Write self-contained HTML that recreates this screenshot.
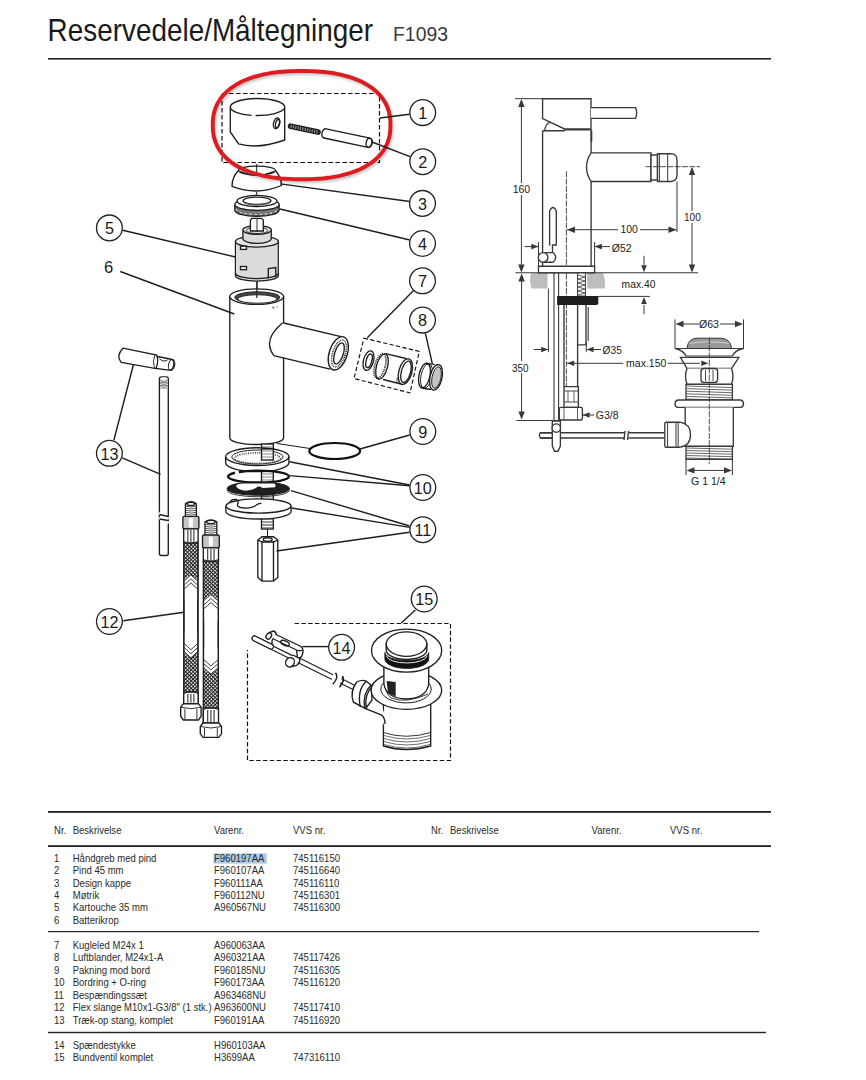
<!DOCTYPE html>
<html><head><meta charset="utf-8"><style>
html,body{margin:0;padding:0;background:#fff;width:866px;height:1080px;overflow:hidden}
svg{position:absolute;left:0;top:0;font-family:"Liberation Sans", sans-serif}
</style></head><body>
<svg width="866" height="1080" viewBox="0 0 866 1080">
<text x="47.6" y="41.2" font-size="30.5" fill="#1a1a1a" textLength="325.5" lengthAdjust="spacingAndGlyphs">Reservedele/Måltegninger</text>
<text x="393" y="41" font-size="20.5" fill="#3a3a3a" textLength="55" lengthAdjust="spacingAndGlyphs">F1093</text>
<rect x="48" y="58" width="723" height="1.6" fill="#222"/>
<rect x="48" y="811" width="723" height="1.8" fill="#222"/>
<rect x="48" y="845.2" width="723" height="1.8" fill="#222"/>
<rect x="48" y="931" width="711" height="1.2" fill="#222"/>
<rect x="48" y="1031.8" width="718" height="1.4" fill="#222"/>
<rect x="213.5" y="853.4" width="53.2" height="10.2" fill="#a9c9e6"/>
<text transform="translate(54,834) scale(0.875,1)" font-size="10.9" fill="#2a2a2a">Nr.</text>
<text transform="translate(72.7,834) scale(0.875,1)" font-size="10.9" fill="#2a2a2a">Beskrivelse</text>
<text transform="translate(214,834) scale(0.875,1)" font-size="10.9" fill="#2a2a2a">Varenr.</text>
<text transform="translate(293,834) scale(0.875,1)" font-size="10.9" fill="#2a2a2a">VVS nr.</text>
<text transform="translate(431,834) scale(0.875,1)" font-size="10.9" fill="#2a2a2a">Nr.</text>
<text transform="translate(450,834) scale(0.875,1)" font-size="10.9" fill="#2a2a2a">Beskrivelse</text>
<text transform="translate(591.5,834) scale(0.875,1)" font-size="10.9" fill="#2a2a2a">Varenr.</text>
<text transform="translate(670,834) scale(0.875,1)" font-size="10.9" fill="#2a2a2a">VVS nr.</text>
<text transform="translate(54,861.6) scale(0.875,1)" font-size="10.9" fill="#2a2a2a">1</text>
<text transform="translate(72.7,861.6) scale(0.875,1)" font-size="10.9" fill="#2a2a2a">Håndgreb med pind</text>
<text transform="translate(214,861.6) scale(0.875,1)" font-size="10.9" fill="#2a2a2a">F960197AA</text>
<text transform="translate(293,861.6) scale(0.875,1)" font-size="10.9" fill="#2a2a2a">745116150</text>
<text transform="translate(54,874.0500000000001) scale(0.875,1)" font-size="10.9" fill="#2a2a2a">2</text>
<text transform="translate(72.7,874.0500000000001) scale(0.875,1)" font-size="10.9" fill="#2a2a2a">Pind 45 mm</text>
<text transform="translate(214,874.0500000000001) scale(0.875,1)" font-size="10.9" fill="#2a2a2a">F960107AA</text>
<text transform="translate(293,874.0500000000001) scale(0.875,1)" font-size="10.9" fill="#2a2a2a">745116640</text>
<text transform="translate(54,886.5) scale(0.875,1)" font-size="10.9" fill="#2a2a2a">3</text>
<text transform="translate(72.7,886.5) scale(0.875,1)" font-size="10.9" fill="#2a2a2a">Design kappe</text>
<text transform="translate(214,886.5) scale(0.875,1)" font-size="10.9" fill="#2a2a2a">F960111AA</text>
<text transform="translate(293,886.5) scale(0.875,1)" font-size="10.9" fill="#2a2a2a">745116110</text>
<text transform="translate(54,898.95) scale(0.875,1)" font-size="10.9" fill="#2a2a2a">4</text>
<text transform="translate(72.7,898.95) scale(0.875,1)" font-size="10.9" fill="#2a2a2a">Møtrik</text>
<text transform="translate(214,898.95) scale(0.875,1)" font-size="10.9" fill="#2a2a2a">F960112NU</text>
<text transform="translate(293,898.95) scale(0.875,1)" font-size="10.9" fill="#2a2a2a">745116301</text>
<text transform="translate(54,911.4) scale(0.875,1)" font-size="10.9" fill="#2a2a2a">5</text>
<text transform="translate(72.7,911.4) scale(0.875,1)" font-size="10.9" fill="#2a2a2a">Kartouche 35 mm</text>
<text transform="translate(214,911.4) scale(0.875,1)" font-size="10.9" fill="#2a2a2a">A960567NU</text>
<text transform="translate(293,911.4) scale(0.875,1)" font-size="10.9" fill="#2a2a2a">745116300</text>
<text transform="translate(54,923.85) scale(0.875,1)" font-size="10.9" fill="#2a2a2a">6</text>
<text transform="translate(72.7,923.85) scale(0.875,1)" font-size="10.9" fill="#2a2a2a">Batterikrop</text>
<text transform="translate(214,923.85) scale(0.875,1)" font-size="10.9" fill="#2a2a2a"></text>
<text transform="translate(293,923.85) scale(0.875,1)" font-size="10.9" fill="#2a2a2a"></text>
<text transform="translate(54,949.0) scale(0.875,1)" font-size="10.9" fill="#2a2a2a">7</text>
<text transform="translate(72.7,949.0) scale(0.875,1)" font-size="10.9" fill="#2a2a2a">Kugleled M24x 1</text>
<text transform="translate(214,949.0) scale(0.875,1)" font-size="10.9" fill="#2a2a2a">A960063AA</text>
<text transform="translate(293,949.0) scale(0.875,1)" font-size="10.9" fill="#2a2a2a"></text>
<text transform="translate(54,961.45) scale(0.875,1)" font-size="10.9" fill="#2a2a2a">8</text>
<text transform="translate(72.7,961.45) scale(0.875,1)" font-size="10.9" fill="#2a2a2a">Luftblander, M24x1-A</text>
<text transform="translate(214,961.45) scale(0.875,1)" font-size="10.9" fill="#2a2a2a">A960321AA</text>
<text transform="translate(293,961.45) scale(0.875,1)" font-size="10.9" fill="#2a2a2a">745117426</text>
<text transform="translate(54,973.9) scale(0.875,1)" font-size="10.9" fill="#2a2a2a">9</text>
<text transform="translate(72.7,973.9) scale(0.875,1)" font-size="10.9" fill="#2a2a2a">Pakning mod bord</text>
<text transform="translate(214,973.9) scale(0.875,1)" font-size="10.9" fill="#2a2a2a">F960185NU</text>
<text transform="translate(293,973.9) scale(0.875,1)" font-size="10.9" fill="#2a2a2a">745116305</text>
<text transform="translate(54,986.35) scale(0.875,1)" font-size="10.9" fill="#2a2a2a">10</text>
<text transform="translate(72.7,986.35) scale(0.875,1)" font-size="10.9" fill="#2a2a2a">Bordring + O-ring</text>
<text transform="translate(214,986.35) scale(0.875,1)" font-size="10.9" fill="#2a2a2a">F960173AA</text>
<text transform="translate(293,986.35) scale(0.875,1)" font-size="10.9" fill="#2a2a2a">745116120</text>
<text transform="translate(54,998.8) scale(0.875,1)" font-size="10.9" fill="#2a2a2a">11</text>
<text transform="translate(72.7,998.8) scale(0.875,1)" font-size="10.9" fill="#2a2a2a">Bespændingssæt</text>
<text transform="translate(214,998.8) scale(0.875,1)" font-size="10.9" fill="#2a2a2a">A963468NU</text>
<text transform="translate(293,998.8) scale(0.875,1)" font-size="10.9" fill="#2a2a2a"></text>
<text transform="translate(54,1011.25) scale(0.875,1)" font-size="10.9" fill="#2a2a2a">12</text>
<text transform="translate(72.7,1011.25) scale(0.875,1)" font-size="10.9" fill="#2a2a2a">Flex slange M10x1-G3/8&quot; (1 stk.)</text>
<text transform="translate(214,1011.25) scale(0.875,1)" font-size="10.9" fill="#2a2a2a">A963600NU</text>
<text transform="translate(293,1011.25) scale(0.875,1)" font-size="10.9" fill="#2a2a2a">745117410</text>
<text transform="translate(54,1023.7) scale(0.875,1)" font-size="10.9" fill="#2a2a2a">13</text>
<text transform="translate(72.7,1023.7) scale(0.875,1)" font-size="10.9" fill="#2a2a2a">Træk-op stang, komplet</text>
<text transform="translate(214,1023.7) scale(0.875,1)" font-size="10.9" fill="#2a2a2a">F960191AA</text>
<text transform="translate(293,1023.7) scale(0.875,1)" font-size="10.9" fill="#2a2a2a">745116920</text>
<text transform="translate(54,1048.8) scale(0.875,1)" font-size="10.9" fill="#2a2a2a">14</text>
<text transform="translate(72.7,1048.8) scale(0.875,1)" font-size="10.9" fill="#2a2a2a">Spændestykke</text>
<text transform="translate(214,1048.8) scale(0.875,1)" font-size="10.9" fill="#2a2a2a">H960103AA</text>
<text transform="translate(293,1048.8) scale(0.875,1)" font-size="10.9" fill="#2a2a2a"></text>
<text transform="translate(54,1061.25) scale(0.875,1)" font-size="10.9" fill="#2a2a2a">15</text>
<text transform="translate(72.7,1061.25) scale(0.875,1)" font-size="10.9" fill="#2a2a2a">Bundventil komplet</text>
<text transform="translate(214,1061.25) scale(0.875,1)" font-size="10.9" fill="#2a2a2a">H3699AA</text>
<text transform="translate(293,1061.25) scale(0.875,1)" font-size="10.9" fill="#2a2a2a">747316110</text>
<path d="M222,93.5 H379.5 V162.5 H222 Z" fill="none" stroke="#111" stroke-width="1.2" stroke-dasharray="4.6,2.4"/>
<path d="M230.3,107 V132 L238.6,143.9 Q258,149.5 284.7,140 V107" fill="#fff" stroke="#1e1e1e" stroke-width="1.35"/>
<path d="M230.3,107 A27.2,8.5 0 0 1 284.7,107" fill="none" stroke="#1e1e1e" stroke-width="1.35"/>
<path d="M230.3,107 A27.2,8.5 0 0 0 284.7,107" fill="none" stroke="#1e1e1e" stroke-width="1.35" stroke-dasharray="24,4,30,60"/>
<ellipse cx="276.6" cy="123.3" rx="3.1" ry="5.4" transform="rotate(15 276.6 123.3)" fill="none" stroke="#1e1e1e" stroke-width="1.35"/>
<ellipse cx="277.4" cy="123.6" rx="1.8" ry="4.2" transform="rotate(15 277.4 123.6)" fill="none" stroke="#1e1e1e" stroke-width="1.35"/>
<path d="M290.6,126.2 L318,132.1" stroke="#1e1e1e" stroke-width="5.6" stroke-linecap="round"/>
<path d="M290.6,126.2 L318,132.1" stroke="#9a9a9a" stroke-width="3" stroke-linecap="butt" stroke-dasharray="1.1,1.3"/>
<path d="M326,128.8 L370,138.2 A3,4.6 12 0 1 368,147.4 L324,138 A3,4.6 12 0 1 326,128.8 Z" fill="#fff" stroke="#1e1e1e" stroke-width="1.35"/>
<ellipse cx="369" cy="142.8" rx="2.8" ry="4.6" transform="rotate(12 369 142.8)" fill="none" stroke="#1e1e1e" stroke-width="1.35"/>
<path d="M238.5,170.5 C234,175 232,180 232,186.4 Q257,196 281.4,185.5 C281.5,180 279.5,175 275.4,170.5" fill="#fff" stroke="#1e1e1e" stroke-width="1.35"/>
<ellipse cx="257" cy="170.5" rx="18.5" ry="4.4" fill="#fff" stroke="#1e1e1e" stroke-width="1.35"/>
<path d="M240,171.5 Q257,179 274,171.5" fill="none" stroke="#1e1e1e" stroke-width="1.35"/>
<line x1="256.7" y1="164" x2="256.7" y2="175" stroke="#1e1e1e" stroke-width="1"/>
<line x1="256.7" y1="192" x2="256.7" y2="202" stroke="#1e1e1e" stroke-width="1"/>
<path d="M234.8,205 V210.5 A22.2,6.2 0 0 0 279.1,210.5 V205" fill="#777" stroke="#1e1e1e" stroke-width="1.35"/>
<path d="M236,209 A21,5.5 0 0 0 278,209" fill="none" stroke="#cfcfcf" stroke-width="1.2" stroke-dasharray="2.5,2.5"/>
<ellipse cx="257" cy="204.5" rx="22.2" ry="5.8" fill="#fff" stroke="#1e1e1e" stroke-width="1.35"/>
<ellipse cx="257" cy="201" rx="19.9" ry="5.6" fill="#fff" stroke="#1e1e1e" stroke-width="1.35"/>
<ellipse cx="257" cy="200.8" rx="13.9" ry="3.7" fill="#fff" stroke="#1e1e1e" stroke-width="1.35"/>
<path d="M245,203 Q257,207 269,203" stroke="#555" stroke-width="1.6" fill="none"/>
<path d="M235.4,241.5 V276 A21.5,5.5 0 0 0 278.3,276 V241.5" fill="#dcdcdc" stroke="#1e1e1e" stroke-width="1.2"/>
<path d="M235.4,273.5 A21.5,5.5 0 0 0 278.3,273.5" fill="none" stroke="#1e1e1e" stroke-width="1.35"/>
<ellipse cx="256.9" cy="241.5" rx="21.5" ry="5.6" fill="#e4e4e4" stroke="#1e1e1e" stroke-width="1.35"/>
<path d="M242.9,230 V239 A14.2,4.6 0 0 0 271.25,239 V230" fill="#dcdcdc" stroke="#1e1e1e" stroke-width="1.35"/>
<ellipse cx="257.1" cy="230" rx="14.2" ry="4.3" fill="#e8e8e8" stroke="#1e1e1e" stroke-width="1.35"/>
<ellipse cx="257.1" cy="230.5" rx="11" ry="3" fill="none" stroke="#1e1e1e" stroke-width="0.8"/>
<path d="M250.4,231 V220 L252,218.3 H261.5 L263.3,220 V231 Z" fill="#fff" stroke="#1e1e1e" stroke-width="1.35"/>
<line x1="257" y1="219" x2="257" y2="232" stroke="#1e1e1e" stroke-width="0.9"/>
<rect x="240.5" y="246.2" width="6" height="3.2" fill="#fff" stroke="#1e1e1e" stroke-width="1.35"/>
<rect x="240.5" y="266.5" width="6" height="3.2" fill="#fff" stroke="#1e1e1e" stroke-width="1.35"/>
<path d="M268.3,278.5 V268.5 L275.8,267.5 V277.5" fill="none" stroke="#1e1e1e" stroke-width="1.35"/>
<line x1="257.1" y1="281" x2="257.1" y2="296" stroke="#1e1e1e" stroke-width="1"/>
<path d="M229.8,296.6 V438 A26.9,6.5 0 0 0 283.6,438 V296.6 Z" fill="#fff" stroke="#1e1e1e" stroke-width="1.35"/>
<ellipse cx="256.7" cy="296.6" rx="26.9" ry="7.8" fill="#fff" stroke="#1e1e1e" stroke-width="1.35"/>
<ellipse cx="257.3" cy="297.4" rx="22.5" ry="5.6" fill="#444" stroke="#1e1e1e" stroke-width="1"/>
<ellipse cx="257.3" cy="299" rx="19.5" ry="4.2" fill="#fff" stroke="#1e1e1e" stroke-width="0.9"/>
<line x1="256.8" y1="282" x2="256.8" y2="298" stroke="#1e1e1e" stroke-width="1.2"/>
<circle cx="273.3" cy="307.5" r="0.9" fill="#555"/><circle cx="277" cy="306.8" r="0.9" fill="#aaa"/>
<path d="M282.8,322.8 L342.1,336.8 L330.1,369.1 L273.8,355.6 Q262,340 282.8,322.8 Z" fill="#fff" stroke="none"/>
<path d="M283.6,323 L342.1,336.8 M273.8,355.6 L330.1,369.1 M282.8,322.8 Q262,340 273.8,355.6" fill="none" stroke="#1e1e1e" stroke-width="1.35"/>
<ellipse cx="338.3" cy="353.3" rx="9" ry="17.3" transform="rotate(18 338.3 353.3)" fill="#fff" stroke="#1e1e1e" stroke-width="1.35"/>
<ellipse cx="339" cy="353.5" rx="6.3" ry="14" transform="rotate(18 339 353.5)" fill="#fff" stroke="#1e1e1e" stroke-width="1.6" stroke-dasharray="0.8,0.9"/>
<ellipse cx="339" cy="353.5" rx="4.3" ry="11" transform="rotate(18 339 353.5)" fill="none" stroke="#1e1e1e" stroke-width="1.35"/>
<path d="M363.9,338.1 L419.3,351.4 L410,392.9 L354,378.5 Z" fill="none" stroke="#111" stroke-width="1.15" stroke-dasharray="4.2,2.4"/>
<ellipse cx="368.5" cy="360.6" rx="5" ry="10" transform="rotate(15 368.5 360.6)" fill="#fff" stroke="#1e1e1e" stroke-width="1.35"/>
<ellipse cx="369" cy="360.8" rx="2.8" ry="7" transform="rotate(15 369 360.8)" fill="none" stroke="#1e1e1e" stroke-width="1.35"/>
<path d="M385,354 L405.4,358.6 L405.4,384.6 L383,379 Z" fill="#fff" stroke="none"/>
<path d="M385.5,353.6 L406,358.5 M383,379.5 L403,384.5" fill="none" stroke="#1e1e1e" stroke-width="1.35"/>
<ellipse cx="382" cy="366.5" rx="5.5" ry="13" transform="rotate(15 382 366.5)" fill="#fff" stroke="#1e1e1e" stroke-width="1.35"/>
<ellipse cx="380" cy="366" rx="5.2" ry="12.6" transform="rotate(15 380 366)" fill="none" stroke="#1e1e1e" stroke-width="1.8" stroke-dasharray="1,1"/>
<path d="M397,382.5 L397,378 L400.5,378.8 L400.5,383.5" fill="none" stroke="#1e1e1e" stroke-width="0.8"/>
<ellipse cx="405.4" cy="371.6" rx="6.5" ry="13.2" transform="rotate(15 405.4 371.6)" fill="#fff" stroke="#1e1e1e" stroke-width="1.35"/>
<ellipse cx="406" cy="371.8" rx="4.6" ry="11" transform="rotate(15 406 371.8)" fill="none" stroke="#1e1e1e" stroke-width="1.35"/>
<path d="M424,364 L436,364 L436,390 L422,389 Z" fill="#fff"/>
<ellipse cx="424.5" cy="375.5" rx="5.5" ry="12.5" transform="rotate(12 424.5 375.5)" fill="#fff" stroke="#1e1e1e" stroke-width="1.35"/>
<ellipse cx="426.5" cy="376" rx="5.5" ry="12.5" transform="rotate(12 426.5 376)" fill="none" stroke="#1e1e1e" stroke-width="0.9"/>
<path d="M425.7,363.3 L434.5,364.3 M421.5,388 L431,389.5" fill="none" stroke="#1e1e1e" stroke-width="1.35"/>
<ellipse cx="436" cy="377.3" rx="6" ry="13" transform="rotate(12 436 377.3)" fill="#fff" stroke="#1e1e1e" stroke-width="1.35"/>
<ellipse cx="436.5" cy="377.5" rx="4.4" ry="11" transform="rotate(12 436.5 377.5)" fill="#c4c4c4" stroke="#1e1e1e" stroke-width="0.9"/>
<ellipse cx="334.7" cy="451" rx="25.4" ry="8" fill="none" stroke="#111" stroke-width="2.2"/>
<line x1="277" y1="443.5" x2="310" y2="448.5" stroke="#1e1e1e" stroke-width="1.1"/>
<rect x="261.5" y="444" width="11.8" height="85" fill="#fff" stroke="#1e1e1e" stroke-width="1.35"/>
<line x1="262" y1="447" x2="273" y2="447" stroke="#555" stroke-width="0.7"/>
<line x1="262" y1="450" x2="273" y2="450" stroke="#555" stroke-width="0.7"/>
<line x1="262" y1="453" x2="273" y2="453" stroke="#555" stroke-width="0.7"/>
<line x1="262" y1="456" x2="273" y2="456" stroke="#555" stroke-width="0.7"/>
<line x1="262" y1="459" x2="273" y2="459" stroke="#555" stroke-width="0.7"/>
<line x1="262" y1="462" x2="273" y2="462" stroke="#555" stroke-width="0.7"/>
<line x1="262" y1="465" x2="273" y2="465" stroke="#555" stroke-width="0.7"/>
<line x1="262" y1="468" x2="273" y2="468" stroke="#555" stroke-width="0.7"/>
<line x1="262" y1="471" x2="273" y2="471" stroke="#555" stroke-width="0.7"/>
<line x1="262" y1="474" x2="273" y2="474" stroke="#555" stroke-width="0.7"/>
<line x1="262" y1="477" x2="273" y2="477" stroke="#555" stroke-width="0.7"/>
<line x1="262" y1="480" x2="273" y2="480" stroke="#555" stroke-width="0.7"/>
<line x1="262" y1="483" x2="273" y2="483" stroke="#555" stroke-width="0.7"/>
<line x1="262" y1="486" x2="273" y2="486" stroke="#555" stroke-width="0.7"/>
<line x1="262" y1="489" x2="273" y2="489" stroke="#555" stroke-width="0.7"/>
<line x1="262" y1="492" x2="273" y2="492" stroke="#555" stroke-width="0.7"/>
<line x1="262" y1="495" x2="273" y2="495" stroke="#555" stroke-width="0.7"/>
<line x1="262" y1="498" x2="273" y2="498" stroke="#555" stroke-width="0.7"/>
<line x1="262" y1="501" x2="273" y2="501" stroke="#555" stroke-width="0.7"/>
<line x1="262" y1="504" x2="273" y2="504" stroke="#555" stroke-width="0.7"/>
<line x1="262" y1="507" x2="273" y2="507" stroke="#555" stroke-width="0.7"/>
<line x1="262" y1="510" x2="273" y2="510" stroke="#555" stroke-width="0.7"/>
<line x1="262" y1="513" x2="273" y2="513" stroke="#555" stroke-width="0.7"/>
<line x1="262" y1="516" x2="273" y2="516" stroke="#555" stroke-width="0.7"/>
<line x1="262" y1="519" x2="273" y2="519" stroke="#555" stroke-width="0.7"/>
<line x1="262" y1="522" x2="273" y2="522" stroke="#555" stroke-width="0.7"/>
<line x1="262" y1="525" x2="273" y2="525" stroke="#555" stroke-width="0.7"/>
<line x1="262" y1="528" x2="273" y2="528" stroke="#555" stroke-width="0.7"/>
<path d="M225.7,456.6 V462.8 A31.6,8.9 0 0 0 288.9,462.8 V456.6" fill="#fff" stroke="#1e1e1e" stroke-width="1.35"/>
<ellipse cx="257.3" cy="456.6" rx="31.6" ry="8.9" fill="#fff" stroke="#1e1e1e" stroke-width="1.35"/>
<ellipse cx="257.4" cy="457" rx="25.6" ry="7" fill="#fff" stroke="#1e1e1e" stroke-width="1"/>
<ellipse cx="257.4" cy="458.2" rx="23" ry="5.3" fill="none" stroke="#555" stroke-width="1.8" stroke-dasharray="1,1.2"/>
<rect x="261.5" y="449" width="11.8" height="11" fill="#fff" stroke="#1e1e1e" stroke-width="1.35"/>
<line x1="262" y1="451" x2="273" y2="451" stroke="#555" stroke-width="0.7"/>
<line x1="262" y1="454" x2="273" y2="454" stroke="#555" stroke-width="0.7"/>
<line x1="262" y1="457" x2="273" y2="457" stroke="#555" stroke-width="0.7"/>
<ellipse cx="258.5" cy="476.6" rx="30.4" ry="6" fill="none" stroke="#111" stroke-width="2.4" stroke-dasharray="72,4,200"/>
<ellipse cx="258.3" cy="488.6" rx="31.2" ry="6.7" fill="#1e1e1e" stroke="#1e1e1e" stroke-width="1"/>
<path d="M236,485.8 Q237,483.6 243,483.4 L274,483.4 Q276.5,484.5 275,487.2 L262.5,488 Q259,485.3 256.5,487.5 Q252,491 244,490.6 Q237,489.5 236,485.8 Z" fill="#fff"/>
<path d="M227,490 A31.2,6.7 0 0 0 289.5,490" fill="none" stroke="#1e1e1e" stroke-width="0.9"/>
<path d="M225.9,506 V511.5 A32.6,7.5 0 0 0 291.1,511.5 V506" fill="#fff" stroke="#1e1e1e" stroke-width="1.35"/>
<ellipse cx="258.5" cy="506" rx="32.6" ry="7.1" fill="#fff" stroke="#1e1e1e" stroke-width="1.35"/>
<path d="M229.5,502.5 Q231.5,499 236,499.4 Q239.5,501 237.5,504 Q237,507.8 244,508 Q252,508.5 256,505.2 Q258.5,503 262,503.5" fill="none" stroke="#1e1e1e" stroke-width="1.35"/>
<rect x="261.5" y="502" width="11.8" height="6" fill="#fff"/>
<line x1="262" y1="519" x2="273" y2="519" stroke="#555" stroke-width="0.7"/>
<line x1="262" y1="522" x2="273" y2="522" stroke="#555" stroke-width="0.7"/>
<line x1="262" y1="525" x2="273" y2="525" stroke="#555" stroke-width="0.7"/>
<line x1="262" y1="528" x2="273" y2="528" stroke="#555" stroke-width="0.7"/>
<line x1="267.5" y1="529" x2="267.5" y2="536" stroke="#1e1e1e" stroke-width="1"/>
<path d="M257.8,540 L262,536.7 H273.5 L277.8,540 V577.5 L273.5,581.1 H262 L257.8,577.5 Z" fill="#fff" stroke="#1e1e1e" stroke-width="1.35"/>
<path d="M262,541 V581 M273.5,541 V581 M257.8,540 L262,542 H273.5 L277.8,540" fill="none" stroke="#1e1e1e" stroke-width="1.35"/>
<ellipse cx="267.7" cy="539.5" rx="4.5" ry="1.8" fill="none" stroke="#1e1e1e" stroke-width="1.35"/>
<path d="M157.6,356.5 L172.3,359.5 A3.4,5.8 12 0 1 170.6,370.3 L154.2,368.1 Z" fill="#fff" stroke="#1e1e1e" stroke-width="1.35"/>
<ellipse cx="171.6" cy="364.9" rx="3.1" ry="5.5" transform="rotate(12 171.6 364.9)" fill="none" stroke="#1e1e1e" stroke-width="1"/>
<path d="M159.5,358.8 Q163,362.5 167.5,360" fill="none" stroke="#1e1e1e" stroke-width="1"/>
<path d="M123,348.2 L156.8,355.2 Q159,361 156,368.6 L121.3,362.5 Q115.5,356 123,348.2 Z" fill="#fff" stroke="#1e1e1e" stroke-width="1.35"/>
<path d="M155,355 Q152,361 154.5,368.3" fill="none" stroke="#1e1e1e" stroke-width="0.9"/>
<rect x="159.4" y="377" width="8.9" height="178.5" rx="2" fill="#fff" stroke="#1e1e1e" stroke-width="1.35"/>
<rect x="160.1" y="379.5" width="7.5" height="9" fill="#8a8a8a"/>
<path d="M160,381.5 Q163.8,379.5 167.7,381.5" fill="none" stroke="#eee" stroke-width="0.9"/>
<path d="M160,384.5 Q163.8,382.5 167.7,384.5" fill="none" stroke="#eee" stroke-width="0.9"/>
<path d="M160,387.5 Q163.8,385.5 167.7,387.5" fill="none" stroke="#eee" stroke-width="0.9"/>
<ellipse cx="163.85" cy="378.6" rx="3.6" ry="1.4" fill="#fff" stroke="none"/>
<path d="M159,513 L168.7,519 M159,518 L168.7,523" stroke="#fff" stroke-width="3"/>
<path d="M159.4,514.5 L168.3,516.5 M159.4,519 L168.3,520.5" fill="none" stroke="#1e1e1e" stroke-width="1.35"/>
<defs><pattern id="braid" width="2.6" height="2.6" patternUnits="userSpaceOnUse" patternTransform="rotate(45)"><rect width="2.6" height="2.6" fill="#1e1e1e"/><rect x="1" y="1" width="1.6" height="1.6" fill="#f0f0f0"/></pattern></defs>
<rect x="183.9" y="543" width="14.0" height="160.70000000000005" fill="#fff" stroke="#1e1e1e" stroke-width="1.35"/>
<rect x="184.4" y="543" width="13.0" height="43.799999999999955" fill="url(#braid)"/>
<rect x="184.4" y="645.8" width="13.0" height="46.200000000000045" fill="url(#braid)"/>
<path d="M184.4,579.8 L190.9,574.8 L197.4,579.8 V600.8 H184.4 Z" fill="#fff"/>
<path d="M184.4,588.8 Q187.9,585.8 190.9,582.8 M197.4,588.8 Q193.9,585.8 190.9,582.8" fill="none" stroke="#222" stroke-width="0.9"/>
<path d="M184.4,584.8 Q187.9,581.8 190.9,578.8 M197.4,584.8 Q193.9,581.8 190.9,578.8" fill="none" stroke="#222" stroke-width="0.9"/>
<path d="M184.4,580.8 Q187.9,577.8 190.9,574.8 M197.4,580.8 Q193.9,577.8 190.9,574.8" fill="none" stroke="#222" stroke-width="0.9"/>
<path d="M184.4,652.8 L190.9,657.8 L197.4,652.8 V631.8 H184.4 Z" fill="#fff"/>
<path d="M184.4,643.8 Q187.9,646.8 190.9,649.8 M197.4,643.8 Q193.9,646.8 190.9,649.8" fill="none" stroke="#222" stroke-width="0.9"/>
<path d="M184.4,647.8 Q187.9,650.8 190.9,653.8 M197.4,647.8 Q193.9,650.8 190.9,653.8" fill="none" stroke="#222" stroke-width="0.9"/>
<path d="M184.4,651.8 Q187.9,654.8 190.9,657.8 M197.4,651.8 Q193.9,654.8 190.9,657.8" fill="none" stroke="#222" stroke-width="0.9"/>
<path d="M183.9,543 V703.7 M197.9,543 V703.7" fill="none" stroke="#1e1e1e" stroke-width="1.35"/>
<path d="M185.4,516.3 V503.8 Q190.9,499.8 196.4,503.8 V516.3" fill="#fff" stroke="#1e1e1e" stroke-width="1.35"/>
<ellipse cx="190.9" cy="503.90000000000003" rx="3.9" ry="1.6" fill="none" stroke="#1e1e1e" stroke-width="1.35"/>
<path d="M185.70000000000002,506.3 Q190.9,507.8 196.1,506.3" fill="none" stroke="#333" stroke-width="0.8"/>
<path d="M185.70000000000002,508.3 Q190.9,509.8 196.1,508.3" fill="none" stroke="#333" stroke-width="0.8"/>
<path d="M185.70000000000002,510.3 Q190.9,511.8 196.1,510.3" fill="none" stroke="#333" stroke-width="0.8"/>
<path d="M185.70000000000002,512.3 Q190.9,513.8 196.1,512.3" fill="none" stroke="#333" stroke-width="0.8"/>
<path d="M185.70000000000002,514.3 Q190.9,515.8 196.1,514.3" fill="none" stroke="#333" stroke-width="0.8"/>
<path d="M182.9,517.8 Q182.9,516.3 184.4,516.3 H197.4 Q198.9,516.3 198.9,517.8 V527.4 Q198.9,528.9 197.4,528.9 H184.4 Q182.9,528.9 182.9,527.4 Z" fill="#c4c4c4" stroke="#1e1e1e" stroke-width="1.35"/>
<rect x="188.9" y="517.8" width="4" height="9.600000000000023" fill="#fff"/>
<rect x="183.70000000000002" y="528.9" width="14.4" height="14.100000000000023" fill="#fff" stroke="#1e1e1e" stroke-width="1.35"/>
<line x1="187.9" y1="529.9" x2="187.9" y2="542" stroke="#1e1e1e" stroke-width="1.0"/>
<line x1="190.9" y1="529.9" x2="190.9" y2="542" stroke="#1e1e1e" stroke-width="1.0"/>
<line x1="193.9" y1="529.9" x2="193.9" y2="542" stroke="#1e1e1e" stroke-width="1.0"/>
<path d="M183.9,541.5 Q190.9,545 197.9,541.5" fill="none" stroke="#1e1e1e" stroke-width="1"/>
<rect x="183.70000000000002" y="692" width="14.4" height="11.700000000000045" fill="#fff" stroke="#1e1e1e" stroke-width="1.35"/>
<line x1="187.9" y1="694" x2="187.9" y2="702.7" stroke="#1e1e1e" stroke-width="1.0"/>
<line x1="190.9" y1="694" x2="190.9" y2="702.7" stroke="#1e1e1e" stroke-width="1.0"/>
<line x1="193.9" y1="694" x2="193.9" y2="702.7" stroke="#1e1e1e" stroke-width="1.0"/>
<path d="M183.9,693.5 Q190.9,690 197.9,693.5" fill="none" stroke="#1e1e1e" stroke-width="1"/>
<path d="M180.70000000000002,707.2 L183.4,703.7 H198.4 L201.1,707.2 V716.5 L198.4,720 H183.4 L180.70000000000002,716.5 Z" fill="#fff" stroke="#1e1e1e" stroke-width="1.35"/>
<path d="M184.9,708.7 V719.5 M196.9,708.7 V719.5 M180.70000000000002,707.2 Q190.9,710.2 201.1,707.2" fill="none" stroke="#1e1e1e" stroke-width="0.9"/>
<rect x="203.5" y="561.1" width="14.800000000000011" height="161.89999999999998" fill="#fff" stroke="#1e1e1e" stroke-width="1.35"/>
<rect x="204" y="561.1" width="13.800000000000011" height="45.39999999999998" fill="url(#braid)"/>
<rect x="204" y="662" width="13.800000000000011" height="46" fill="url(#braid)"/>
<path d="M204,599.5 L210.9,594.5 L217.8,599.5 V620.5 H204 Z" fill="#fff"/>
<path d="M204,608.5 Q207.74,605.5 210.9,602.5 M217.8,608.5 Q214.06,605.5 210.9,602.5" fill="none" stroke="#222" stroke-width="0.9"/>
<path d="M204,604.5 Q207.74,601.5 210.9,598.5 M217.8,604.5 Q214.06,601.5 210.9,598.5" fill="none" stroke="#222" stroke-width="0.9"/>
<path d="M204,600.5 Q207.74,597.5 210.9,594.5 M217.8,600.5 Q214.06,597.5 210.9,594.5" fill="none" stroke="#222" stroke-width="0.9"/>
<path d="M204,669 L210.9,674 L217.8,669 V648 H204 Z" fill="#fff"/>
<path d="M204,660 Q207.74,663 210.9,666 M217.8,660 Q214.06,663 210.9,666" fill="none" stroke="#222" stroke-width="0.9"/>
<path d="M204,664 Q207.74,667 210.9,670 M217.8,664 Q214.06,667 210.9,670" fill="none" stroke="#222" stroke-width="0.9"/>
<path d="M204,668 Q207.74,671 210.9,674 M217.8,668 Q214.06,671 210.9,674" fill="none" stroke="#222" stroke-width="0.9"/>
<path d="M203.5,561.1 V723 M218.3,561.1 V723" fill="none" stroke="#1e1e1e" stroke-width="1.35"/>
<path d="M205,535 V521.9 Q210.9,517.9 216.8,521.9 V535" fill="#fff" stroke="#1e1e1e" stroke-width="1.35"/>
<ellipse cx="210.9" cy="522.0" rx="4.300000000000006" ry="1.6" fill="none" stroke="#1e1e1e" stroke-width="1.35"/>
<path d="M205.3,524.4 Q210.9,525.9 216.5,524.4" fill="none" stroke="#333" stroke-width="0.8"/>
<path d="M205.3,526.4 Q210.9,527.9 216.5,526.4" fill="none" stroke="#333" stroke-width="0.8"/>
<path d="M205.3,528.4 Q210.9,529.9 216.5,528.4" fill="none" stroke="#333" stroke-width="0.8"/>
<path d="M205.3,530.4 Q210.9,531.9 216.5,530.4" fill="none" stroke="#333" stroke-width="0.8"/>
<path d="M205.3,532.4 Q210.9,533.9 216.5,532.4" fill="none" stroke="#333" stroke-width="0.8"/>
<path d="M202.5,536.5 Q202.5,535 204,535 H217.8 Q219.3,535 219.3,536.5 V546.3 Q219.3,547.8 217.8,547.8 H204 Q202.5,547.8 202.5,546.3 Z" fill="#c4c4c4" stroke="#1e1e1e" stroke-width="1.35"/>
<rect x="208.9" y="536.5" width="4" height="9.799999999999955" fill="#fff"/>
<rect x="203.3" y="547.8" width="15.200000000000012" height="13.300000000000068" fill="#fff" stroke="#1e1e1e" stroke-width="1.35"/>
<line x1="207.74" y1="548.8" x2="207.74" y2="560.1" stroke="#1e1e1e" stroke-width="1.0"/>
<line x1="210.9" y1="548.8" x2="210.9" y2="560.1" stroke="#1e1e1e" stroke-width="1.0"/>
<line x1="214.06" y1="548.8" x2="214.06" y2="560.1" stroke="#1e1e1e" stroke-width="1.0"/>
<path d="M203.5,559.6 Q210.9,563.1 218.3,559.6" fill="none" stroke="#1e1e1e" stroke-width="1"/>
<rect x="203.3" y="708" width="15.200000000000012" height="15" fill="#fff" stroke="#1e1e1e" stroke-width="1.35"/>
<line x1="207.74" y1="710" x2="207.74" y2="722" stroke="#1e1e1e" stroke-width="1.0"/>
<line x1="210.9" y1="710" x2="210.9" y2="722" stroke="#1e1e1e" stroke-width="1.0"/>
<line x1="214.06" y1="710" x2="214.06" y2="722" stroke="#1e1e1e" stroke-width="1.0"/>
<path d="M203.5,709.5 Q210.9,706 218.3,709.5" fill="none" stroke="#1e1e1e" stroke-width="1"/>
<path d="M200.3,726.5 L203,723 H218.8 L221.5,726.5 V733.8 L218.8,737.3 H203 L200.3,733.8 Z" fill="#fff" stroke="#1e1e1e" stroke-width="1.35"/>
<path d="M204.5,728 V736.8 M217.3,728 V736.8 M200.3,726.5 Q210.9,729.5 221.5,726.5" fill="none" stroke="#1e1e1e" stroke-width="0.9"/>
<path d="M294.6,623.5 H450.5 V760.5 H247.5 V649.9" fill="none" stroke="#111" stroke-width="1.2" stroke-dasharray="4.4,2.4"/>
<path d="M254.5,638.4 L333.6,677.6" stroke="#1e1e1e" stroke-width="5.8" stroke-linecap="round"/>
<path d="M254.5,638.4 L333.6,677.6" stroke="#fff" stroke-width="3.6" stroke-linecap="round"/>
<path d="M341.1,681 L358,689.5" stroke="#1e1e1e" stroke-width="5.8" stroke-linecap="round"/>
<path d="M341.1,681 L358,689.5" stroke="#fff" stroke-width="3.6" stroke-linecap="round"/>
<path d="M335.5,673 Q339,677 333,684 M342.5,676 Q345,681 339.5,687" fill="none" stroke="#1e1e1e" stroke-width="1.35"/>
<path d="M333.6,673 L342,677 L339,686 L331,682 Z" fill="#fff"/>
<path d="M335.5,673 Q339,677 333,684 M342.5,676 Q345,681 339.5,687" fill="none" stroke="#1e1e1e" stroke-width="1.35"/>
<path d="M276,634.5 L300,646 Q303.5,648 303,652 L302,655.5 Q301,658.5 297.5,658 L274,646.5 Q271.5,645 272,641.5 L272.5,638 Q273,634 276,634.5 Z" fill="#fff" stroke="#1e1e1e" stroke-width="1.35"/>
<path d="M272.5,638.5 L296.5,650 Q300,651.5 303,650 M296.5,650 L297.5,658" fill="none" stroke="#1e1e1e" stroke-width="1.35"/>
<ellipse cx="285" cy="643.2" rx="4.6" ry="2.2" transform="rotate(24 285 643.2)" fill="none" stroke="#1e1e1e" stroke-width="1.35"/>
<path d="M266,633 L272,630.8 L276,634.6 L271,640 Z" fill="#fff"/>
<ellipse cx="268.8" cy="636" rx="2.4" ry="3.4" transform="rotate(35 268.8 636)" fill="#fff" stroke="#1e1e1e" stroke-width="1.35"/>
<path d="M269.5,632.5 L273.5,631 Q276.5,632 276,635" fill="none" stroke="#1e1e1e" stroke-width="1.35"/>
<path d="M254.5,638.4 L271,646.6" stroke="#1e1e1e" stroke-width="5.8" stroke-linecap="round"/>
<path d="M254.5,638.4 L271,646.6" stroke="#fff" stroke-width="3.6" stroke-linecap="round"/>
<path d="M293,655 L299.5,658.8 L296,666.5 L289.5,667 Z" fill="#fff"/>
<path d="M293,655 L299.5,658.5 Q301,662 296.5,665.5 L290,667" fill="none" stroke="#1e1e1e" stroke-width="1.35"/>
<ellipse cx="290" cy="662.3" rx="4.2" ry="4.8" transform="rotate(30 290 662.3)" fill="#fff" stroke="#1e1e1e" stroke-width="1.35"/>
<path d="M383.4,700 V746 Q406,753 430.7,746 V700 Z" fill="#fff" stroke="#1e1e1e" stroke-width="1.35"/>
<path d="M383.4,732.5 Q406,740 430.7,732.5" fill="none" stroke="#1e1e1e" stroke-width="0.9"/>
<path d="M384,735.5 Q406,742.5 430.2,735.5" fill="none" stroke="#444" stroke-width="0.8"/>
<path d="M384,738.5 Q406,745.5 430.2,738.5" fill="none" stroke="#444" stroke-width="0.8"/>
<path d="M384,741.5 Q406,748.5 430.2,741.5" fill="none" stroke="#444" stroke-width="0.8"/>
<path d="M384,744.5 Q406,751.5 430.2,744.5" fill="none" stroke="#444" stroke-width="0.8"/>
<path d="M366,684 L372,686 L380,700 L385,716 L383.4,725 L365.6,708.7 Z" fill="#fff"/>
<path d="M365.6,708.7 L381.7,715.1 Q385,718 385,724" fill="none" stroke="#1e1e1e" stroke-width="1.35"/>
<path d="M356.7,682 Q362,679.5 366,681 L371.2,685.2 L372,700 L365.6,708.7 L353.4,702.2 Q349.5,692 356.7,682 Z" fill="#fff" stroke="#1e1e1e" stroke-width="1.35"/>
<path d="M366,681.5 Q357,690 360.3,707 M371,685 Q362,694 364.8,708.5 M372.5,686 Q363.5,695 366.5,709" fill="none" stroke="#1e1e1e" stroke-width="1.35"/>
<ellipse cx="406.4" cy="690.3" rx="35.3" ry="19" fill="#fff" stroke="#1e1e1e" stroke-width="1.35"/>
<ellipse cx="406" cy="689" rx="25.2" ry="13.9" fill="none" stroke="#1e1e1e" stroke-width="1"/>
<path d="M385.5,682 Q384,692 391,698 Q406,704 428,694" fill="none" stroke="#1e1e1e" stroke-width="0.9"/>
<path d="M386.6,680.9 L395.7,682 V695.1 L387.5,692 Z" fill="#222"/>
<path d="M383.9,662 V684 Q386,698 406,699 Q427,698 428.7,684 V662 Z" fill="#fff" stroke="#1e1e1e" stroke-width="1.35"/>
<path d="M386.6,680.9 L395.7,682 V696.5 L388,693 Z" fill="#222"/>
<ellipse cx="406.6" cy="650.6" rx="35.1" ry="21.5" fill="#fff" stroke="#1e1e1e" stroke-width="1.35"/>
<path d="M384.9,652.5 A21.9,8 0 0 0 428.7,652.5 V659 A21.9,9.4 0 0 1 384.9,659 Z" fill="#111" stroke="#1e1e1e" stroke-width="0.9"/>
<path d="M386.5,656 A20.3,7.5 0 0 0 427,656" fill="none" stroke="#fff" stroke-width="0.9"/>
<path d="M386.2,644.1 V650 A20.3,9.5 0 0 0 426.9,650 V644.1 Z" fill="#fff" stroke="#1e1e1e" stroke-width="1.35"/>
<ellipse cx="406.5" cy="644.1" rx="20.3" ry="12.2" fill="#fff" stroke="#1e1e1e" stroke-width="1.35"/>
<path d="M531,273 H547.5 V288.5 H531.5 Q529,281 531,273 Z" fill="#bdbdbd"/>
<path d="M587.2,273 H603 Q606,281 604.8,288.5 H587.2 Z" fill="#bdbdbd"/>
<path d="M542.6,98.7 H591 V129.2 H565.1 L542.6,118.6 Z" fill="#fff" stroke="#383838" stroke-width="1.35"/>
<line x1="565.1" y1="129.5" x2="591" y2="129.5" stroke="#383838" stroke-width="2"/>
<path d="M550.3,122 Q545.5,124 544.8,130" fill="none" stroke="#383838" stroke-width="1.35"/>
<path d="M591,107.6 H635.5 Q638,113 635.5,118.3 H591" fill="#fff" stroke="#383838" stroke-width="1.35"/>
<path d="M542.6,130.7 V266.2 M591.1,130.7 V152.8 M591.1,181.5 V266.2 M542.6,130.7 H565" fill="none" stroke="#383838" stroke-width="1.35"/>
<line x1="591.5" y1="130" x2="591.5" y2="142" stroke="#383838" stroke-width="1.6"/>
<path d="M591,152.8 H651 V181.5 H591 Q582,167 591,152.8 Z" fill="#fff" stroke="#383838" stroke-width="1.35"/>
<path d="M651,155 H657.5 V180 H651 Z" fill="#fff" stroke="#383838" stroke-width="1.35"/>
<path d="M657.5,153.7 H671 Q677,154 677,160 V175 Q677,181 671,181.5 H657.5 Z" fill="#fff" stroke="#383838" stroke-width="1.35"/>
<line x1="659.4" y1="154" x2="659.4" y2="181" stroke="#383838" stroke-width="1.0"/>
<line x1="667.7" y1="154" x2="667.7" y2="181" stroke="#383838" stroke-width="1.0"/>
<path d="M645.5,166.7 H700" stroke="#383838" stroke-width="0.9" stroke-dasharray="6,1.3"/>
<path d="M566.4,171.3 V420" stroke="#383838" stroke-width="0.9" stroke-dasharray="6,1.3"/>
<path d="M549.6,245.4 V211 Q553,204 556.3,211 V245.4" fill="#fff" stroke="#383838" stroke-width="1.35"/>
<path d="M552.5,252 V245 H556.3" fill="none" stroke="#383838" stroke-width="1.35"/>
<path d="M543.1,252.6 H553 Q558.5,257.4 553,262.2 H543.1" fill="#fff" stroke="#383838" stroke-width="1.35"/>
<circle cx="543.1" cy="257.4" r="4.8" fill="#fff" stroke="#383838" stroke-width="1.35"/>
<path d="M538.5,266.2 H594.6 V272.8 H538.5 Z" fill="#fff" stroke="#383838" stroke-width="1.35"/>
<line x1="515" y1="98.7" x2="542.6" y2="98.7" stroke="#383838" stroke-width="1"/>
<line x1="521.4" y1="101" x2="521.4" y2="270.8" stroke="#383838" stroke-width="1"/>
<path d="M521.4,99 L518.1999999999999,107 L524.6,107 Z" fill="#383838"/>
<path d="M521.4,272.5 L518.1999999999999,264.5 L524.6,264.5 Z" fill="#383838"/>
<rect x="511" y="183" width="21" height="12" fill="#fff"/>
<text x="521.4" y="193.2" font-size="11.3" fill="#222" text-anchor="middle" textLength="17.5" lengthAdjust="spacingAndGlyphs">160</text>
<line x1="515.4" y1="272.8" x2="698" y2="272.8" stroke="#383838" stroke-width="1.1"/>
<line x1="692" y1="168" x2="692" y2="270.8" stroke="#383838" stroke-width="1"/>
<path d="M692,167 L688.8,175 L695.2,175 Z" fill="#383838"/>
<path d="M692,272.5 L688.8,264.5 L695.2,264.5 Z" fill="#383838"/>
<rect x="682" y="211" width="21" height="12" fill="#fff"/>
<text x="692.4" y="221.2" font-size="11.3" fill="#222" text-anchor="middle" textLength="16.8" lengthAdjust="spacingAndGlyphs">100</text>
<line x1="677" y1="181.5" x2="677" y2="232" stroke="#383838" stroke-width="1"/>
<line x1="567" y1="229.7" x2="676.5" y2="229.7" stroke="#383838" stroke-width="1"/>
<path d="M567,229.7 L575,226.5 L575,232.89999999999998 Z" fill="#383838"/>
<path d="M676.5,229.7 L668.5,226.5 L668.5,232.89999999999998 Z" fill="#383838"/>
<rect x="618" y="223" width="22" height="12" fill="#fff"/>
<text x="629.1" y="233.2" font-size="11.3" fill="#222" text-anchor="middle" textLength="17.3" lengthAdjust="spacingAndGlyphs">100</text>
<line x1="538.5" y1="242" x2="538.5" y2="266.2" stroke="#383838" stroke-width="1"/>
<line x1="594.6" y1="242" x2="594.6" y2="266.2" stroke="#383838" stroke-width="1"/>
<line x1="524.6" y1="246.6" x2="538" y2="246.6" stroke="#383838" stroke-width="1"/>
<path d="M538.3,246.6 L531.3,243.79999999999998 L531.3,249.4 Z" fill="#383838"/>
<line x1="610" y1="246.6" x2="595" y2="246.6" stroke="#383838" stroke-width="1"/>
<path d="M594.8,246.6 L601.8,243.79999999999998 L601.8,249.4 Z" fill="#383838"/>
<text x="611.7" y="251.9" font-size="11.3" fill="#222" text-anchor="start" textLength="19.9" lengthAdjust="spacingAndGlyphs">Ø52</text>
<line x1="644" y1="255.8" x2="644" y2="265" stroke="#383838" stroke-width="1"/>
<path d="M644,272.3 L641.2,265.3 L646.8,265.3 Z" fill="#383838"/>
<text x="621.6" y="287.6" font-size="11.3" fill="#222" text-anchor="start" textLength="33.8" lengthAdjust="spacingAndGlyphs">max.40</text>
<line x1="598" y1="296.4" x2="650" y2="296.4" stroke="#383838" stroke-width="1"/>
<line x1="644" y1="305" x2="644" y2="314.3" stroke="#383838" stroke-width="1"/>
<path d="M644,297 L641.2,304 L646.8,304 Z" fill="#383838"/>
<line x1="554" y1="272.8" x2="554" y2="420.5" stroke="#383838" stroke-width="1.1"/>
<line x1="558.6" y1="272.8" x2="558.6" y2="420.5" stroke="#383838" stroke-width="1.1"/>
<line x1="548.4" y1="288.5" x2="548.4" y2="352.2" stroke="#383838" stroke-width="1"/>
<path d="M564,305 V386.6 M577.6,344.8 V386.6" fill="none" stroke="#383838" stroke-width="1.35"/>
<rect x="577.6" y="273" width="7.8" height="23" fill="#fff" stroke="#383838" stroke-width="1"/>
<path d="M578,275 L585,277 L578,279 L585,281 L578,283 L585,285 L578,287 L585,289 L578,291 L585,293 L578,295" fill="none" stroke="#383838" stroke-width="0.8"/>
<path d="M557.1,295.9 H598.3 V303.5 Q598,305.1 596,305.1 H557.1 Z" fill="#1e1e1e"/>
<path d="M564,305 H577.6" stroke="#fff" stroke-width="0.01"/>
<path d="M577.6,305.1 V344.8 H586 V305.1" fill="#fff" stroke="#383838" stroke-width="1.35"/>
<line x1="588.2" y1="307" x2="588.2" y2="341" stroke="#383838" stroke-width="1.1"/>
<line x1="586.3" y1="342" x2="586.3" y2="352.2" stroke="#383838" stroke-width="1"/>
<line x1="533.6" y1="349.5" x2="548" y2="349.5" stroke="#383838" stroke-width="1"/>
<path d="M548.2,349.5 L541.2,346.7 L541.2,352.3 Z" fill="#383838"/>
<line x1="601" y1="349.5" x2="587" y2="349.5" stroke="#383838" stroke-width="1"/>
<path d="M586.6,349.5 L593.6,346.7 L593.6,352.3 Z" fill="#383838"/>
<text x="602.6" y="353.5" font-size="11.3" fill="#222" text-anchor="start" textLength="19.2" lengthAdjust="spacingAndGlyphs">Ø35</text>
<line x1="567" y1="363.3" x2="623.3" y2="363.3" stroke="#383838" stroke-width="1"/>
<path d="M567.2,363.3 L574.2,360.5 L574.2,366.1 Z" fill="#383838"/>
<rect x="625" y="356" width="42" height="11" fill="#fff"/>
<text x="626" y="367.4" font-size="11.3" fill="#222" text-anchor="start" textLength="40.4" lengthAdjust="spacingAndGlyphs">max.150</text>
<line x1="521.6" y1="274.5" x2="521.6" y2="418" stroke="#383838" stroke-width="1"/>
<path d="M521.6,273.5 L518.4,281.5 L524.8000000000001,281.5 Z" fill="#383838"/>
<path d="M521.6,419.5 L518.4,411.5 L524.8000000000001,411.5 Z" fill="#383838"/>
<rect x="511" y="361" width="21" height="12" fill="#fff"/>
<text x="520.2" y="371.5" font-size="11.3" fill="#222" text-anchor="middle" textLength="16.5" lengthAdjust="spacingAndGlyphs">350</text>
<line x1="516.5" y1="420.5" x2="560.4" y2="420.5" stroke="#383838" stroke-width="1"/>
<path d="M564,386.6 H578.4 V407.3 H564 Z" fill="#fff" stroke="#383838" stroke-width="1.35"/>
<line x1="564" y1="391" x2="578.4" y2="391" stroke="#383838" stroke-width="0.9"/>
<line x1="564" y1="402" x2="578.4" y2="402" stroke="#383838" stroke-width="0.9"/>
<line x1="568" y1="391" x2="568" y2="402" stroke="#383838" stroke-width="0.8"/>
<line x1="574" y1="391" x2="574" y2="402" stroke="#383838" stroke-width="0.8"/>
<path d="M559.3,409 Q559.3,407.3 561,407.3 H581 Q582.4,407.3 582.4,409 V418.5 Q582.4,420 581,420 H561 Q559.3,420 559.3,418.5 Z" fill="#fff" stroke="#383838" stroke-width="1.35"/>
<line x1="564" y1="407.5" x2="564" y2="420" stroke="#383838" stroke-width="0.8"/>
<line x1="577.5" y1="407.5" x2="577.5" y2="420" stroke="#383838" stroke-width="0.8"/>
<line x1="594" y1="415" x2="583" y2="415" stroke="#383838" stroke-width="1"/>
<path d="M582.6,415 L589.6,412.2 L589.6,417.8 Z" fill="#383838"/>
<text x="595.8" y="418.9" font-size="11.3" fill="#222" text-anchor="start" textLength="22.8" lengthAdjust="spacingAndGlyphs">G3/8</text>
<path d="M540.1,432.7 H625 M628.5,432.7 H664.4 M540.1,438 H625 M628.5,438 H664.4 M540.1,432.7 Q538.5,435.3 540.1,438" fill="none" stroke="#383838" stroke-width="1.35"/>
<path d="M625,431 L624,440 M628.5,431 L627.5,440" fill="none" stroke="#383838" stroke-width="1.35"/>
<path d="M552.3,421 H560.4 V446 L558,451.2 H554.5 L552.3,446 Z" fill="#fff" stroke="#383838" stroke-width="1.35"/>
<circle cx="556.3" cy="428.1" r="4.2" fill="#fff" stroke="#383838" stroke-width="1.35"/>
<path d="M540.1,432.7 H552 M540.1,438 H552" fill="none" stroke="#383838" stroke-width="1.35"/>
<path d="M675,319.4 V348.5 M743.5,319.4 V348.5" stroke="#383838" stroke-width="1"/>
<line x1="683" y1="324" x2="699" y2="324" stroke="#383838" stroke-width="1"/>
<line x1="720" y1="324" x2="735" y2="324" stroke="#383838" stroke-width="1"/>
<path d="M675.5,324 L683.5,320.8 L683.5,327.2 Z" fill="#383838"/>
<path d="M743,324 L735,320.8 L735,327.2 Z" fill="#383838"/>
<text x="709" y="328.2" font-size="11.3" fill="#222" text-anchor="middle" textLength="19.9" lengthAdjust="spacingAndGlyphs">Ø63</text>
<line x1="675" y1="348.5" x2="743.5" y2="348.5" stroke="#383838" stroke-width="1"/>
<path d="M687,348.5 L688,344 Q690,338.6 697,338.2 H721 Q728,338.6 730.5,344 L731.5,348.5 Z" fill="#9a9a9a" stroke="#383838" stroke-width="1"/>
<path d="M689,343.5 Q709,340 729,343.5" stroke="#cfcfcf" stroke-width="1" fill="none"/>
<path d="M675,348.5 Q683,350 686,356 M743.5,348.5 Q735,350 732.5,356" fill="none" stroke="#383838" stroke-width="1.35"/>
<line x1="686" y1="356" x2="732.5" y2="356" stroke="#383838" stroke-width="1"/>
<path d="M680.5,357.4 H738.9 L731.5,368.5 H687 Z" fill="#fff" stroke="#383838" stroke-width="1.35"/>
<path d="M687,368.5 Q684,376 687,384.3 H731.5 Q734.5,376 731.5,368.5" fill="#fff" stroke="#383838" stroke-width="1.35"/>
<rect x="701" y="368.5" width="16.6" height="13.9" rx="3" fill="#fff" stroke="#383838" stroke-width="1.35"/>
<line x1="705.5" y1="370" x2="705.5" y2="381" stroke="#383838" stroke-width="0.9"/>
<line x1="713" y1="370" x2="713" y2="381" stroke="#383838" stroke-width="0.9"/>
<rect x="686" y="384.3" width="46.4" height="15.7" fill="#fff" stroke="#383838" stroke-width="1.35"/>
<path d="M686.5,386.0 L731.9,387.5" stroke="#444" stroke-width="0.8"/>
<path d="M686.5,388.6 L731.9,390.1" stroke="#444" stroke-width="0.8"/>
<path d="M686.5,391.2 L731.9,392.7" stroke="#444" stroke-width="0.8"/>
<path d="M686.5,393.8 L731.9,395.3" stroke="#444" stroke-width="0.8"/>
<path d="M686.5,396.4 L731.9,397.9" stroke="#444" stroke-width="0.8"/>
<path d="M686.5,399.0 L731.9,400.5" stroke="#444" stroke-width="0.8"/>
<path d="M678,400 H740.5 Q743.5,400.5 743.5,403.7 Q743.5,407 740.5,407.4 H678 Q675,407 675,403.7 Q675,400.5 678,400 Z" fill="#fff" stroke="#383838" stroke-width="1.35"/>
<path d="M685.2,407.4 V446.3 H733.3 V407.4" fill="#fff" stroke="#383838" stroke-width="1.35"/>
<path d="M664.8,423.5 Q664.8,422.2 666,422.2 H680 Q690.5,424 690.5,434.7 Q690.5,445.5 680,447.2 H666 Q664.8,447.2 664.8,446 Z" fill="#fff" stroke="#383838" stroke-width="1.35"/>
<line x1="667.6" y1="422.5" x2="667.6" y2="447" stroke="#383838" stroke-width="1.0"/>
<line x1="676" y1="422.5" x2="676" y2="447" stroke="#383838" stroke-width="1.0"/>
<line x1="678.2" y1="422.5" x2="678.2" y2="447" stroke="#383838" stroke-width="1.0"/>
<rect x="686" y="446.3" width="46.4" height="13" fill="#fff" stroke="#383838" stroke-width="1.35"/>
<path d="M686.5,448.0 L731.9,449.2" stroke="#444" stroke-width="0.8"/>
<path d="M686.5,450.5 L731.9,451.7" stroke="#444" stroke-width="0.8"/>
<path d="M686.5,453.0 L731.9,454.2" stroke="#444" stroke-width="0.8"/>
<path d="M686.5,455.5 L731.9,456.7" stroke="#444" stroke-width="0.8"/>
<path d="M686.5,458.0 L731.9,459.2" stroke="#444" stroke-width="0.8"/>
<path d="M709.3,338 V464" stroke="#383838" stroke-width="0.9" stroke-dasharray="6,1.3"/>
<line x1="686" y1="459.3" x2="686" y2="475" stroke="#383838" stroke-width="1"/>
<line x1="732.4" y1="459.3" x2="732.4" y2="475" stroke="#383838" stroke-width="1"/>
<line x1="690" y1="470.4" x2="728" y2="470.4" stroke="#383838" stroke-width="1"/>
<path d="M686.5,470.4 L694.5,467.2 L694.5,473.59999999999997 Z" fill="#383838"/>
<path d="M732,470.4 L724,467.2 L724,473.59999999999997 Z" fill="#383838"/>
<text x="708.3" y="485.3" font-size="11.3" fill="#222" text-anchor="middle" textLength="34.6" lengthAdjust="spacingAndGlyphs">G 1 1/4</text>
<line x1="668" y1="363.3" x2="700" y2="363.3" stroke="#383838" stroke-width="1"/>
<path d="M708.3,363.3 L701.3,360.5 L701.3,366.1 Z" fill="#383838"/>
<defs><filter id="sh" x="-20%" y="-20%" width="140%" height="140%"><feGaussianBlur stdDeviation="1.6"/></filter></defs>
<path d="M390.4,125.1 L390.4,128.1 L390.2,130.5 L390.0,132.8 L389.7,135.0 L389.2,137.1 L388.7,139.1 L388.1,141.0 L387.4,142.9 L386.6,144.8 L385.8,146.6 L384.8,148.3 L383.7,150.0 L382.6,151.7 L381.4,153.3 L380.0,154.9 L378.6,156.4 L377.1,157.9 L375.6,159.3 L373.9,160.7 L372.2,162.1 L370.3,163.4 L368.4,164.6 L366.5,165.8 L364.4,167.0 L362.3,168.1 L360.1,169.2 L357.8,170.2 L355.4,171.1 L353.0,172.0 L350.5,172.9 L347.9,173.7 L345.2,174.4 L342.5,175.1 L339.7,175.8 L336.8,176.4 L333.9,176.9 L330.8,177.4 L327.7,177.8 L324.5,178.2 L321.2,178.5 L317.8,178.7 L314.3,178.9 L310.5,179.1 L306.5,179.2 L301.6,179.2 L296.7,179.2 L292.7,179.1 L288.9,178.9 L285.4,178.7 L282.0,178.5 L278.7,178.2 L275.5,177.8 L272.4,177.4 L269.3,176.9 L266.4,176.4 L263.5,175.8 L260.7,175.1 L258.0,174.4 L255.3,173.7 L252.7,172.9 L250.2,172.0 L247.8,171.1 L245.4,170.2 L243.1,169.2 L240.9,168.1 L238.8,167.0 L236.7,165.8 L234.8,164.6 L232.9,163.4 L231.0,162.1 L229.3,160.7 L227.6,159.3 L226.1,157.9 L224.6,156.4 L223.2,154.9 L221.8,153.3 L220.6,151.7 L219.5,150.0 L218.4,148.3 L217.4,146.6 L216.6,144.8 L215.8,142.9 L215.1,141.0 L214.5,139.1 L214.0,137.1 L213.5,135.0 L213.2,132.8 L213.0,130.5 L212.8,128.1 L212.8,125.1 L212.8,122.1 L213.0,119.7 L213.2,117.4 L213.5,115.2 L214.0,113.1 L214.5,111.1 L215.1,109.2 L215.8,107.3 L216.6,105.4 L217.4,103.6 L218.4,101.9 L219.5,100.2 L220.6,98.5 L221.8,96.9 L223.2,95.3 L224.6,93.8 L226.1,92.3 L227.6,90.9 L229.3,89.5 L231.0,88.1 L232.9,86.8 L234.8,85.6 L236.7,84.4 L238.8,83.2 L240.9,82.1 L243.1,81.0 L245.4,80.0 L247.8,79.1 L250.2,78.2 L252.7,77.3 L255.3,76.5 L258.0,75.8 L260.7,75.1 L263.5,74.4 L266.4,73.8 L269.3,73.3 L272.4,72.8 L275.5,72.4 L278.7,72.0 L282.0,71.7 L285.4,71.5 L288.9,71.3 L292.7,71.1 L296.7,71.0 L301.6,71.0 L306.5,71.0 L310.5,71.1 L314.3,71.3 L317.8,71.5 L321.2,71.7 L324.5,72.0 L327.7,72.4 L330.8,72.8 L333.9,73.3 L336.8,73.8 L339.7,74.4 L342.5,75.1 L345.2,75.8 L347.9,76.5 L350.5,77.3 L353.0,78.2 L355.4,79.1 L357.8,80.0 L360.1,81.0 L362.3,82.1 L364.4,83.2 L366.5,84.4 L368.4,85.6 L370.3,86.8 L372.2,88.1 L373.9,89.5 L375.6,90.9 L377.1,92.3 L378.6,93.8 L380.0,95.3 L381.4,96.9 L382.6,98.5 L383.7,100.2 L384.8,101.9 L385.8,103.6 L386.6,105.4 L387.4,107.3 L388.1,109.2 L388.7,111.1 L389.2,113.1 L389.7,115.2 L390.0,117.4 L390.2,119.7 L390.4,122.1 Z" fill="none" stroke="#000" stroke-opacity="0.28" stroke-width="3.5" transform="translate(1.4,1.8)" filter="url(#sh)"/>
<path d="M390.4,125.1 L390.4,128.1 L390.2,130.5 L390.0,132.8 L389.7,135.0 L389.2,137.1 L388.7,139.1 L388.1,141.0 L387.4,142.9 L386.6,144.8 L385.8,146.6 L384.8,148.3 L383.7,150.0 L382.6,151.7 L381.4,153.3 L380.0,154.9 L378.6,156.4 L377.1,157.9 L375.6,159.3 L373.9,160.7 L372.2,162.1 L370.3,163.4 L368.4,164.6 L366.5,165.8 L364.4,167.0 L362.3,168.1 L360.1,169.2 L357.8,170.2 L355.4,171.1 L353.0,172.0 L350.5,172.9 L347.9,173.7 L345.2,174.4 L342.5,175.1 L339.7,175.8 L336.8,176.4 L333.9,176.9 L330.8,177.4 L327.7,177.8 L324.5,178.2 L321.2,178.5 L317.8,178.7 L314.3,178.9 L310.5,179.1 L306.5,179.2 L301.6,179.2 L296.7,179.2 L292.7,179.1 L288.9,178.9 L285.4,178.7 L282.0,178.5 L278.7,178.2 L275.5,177.8 L272.4,177.4 L269.3,176.9 L266.4,176.4 L263.5,175.8 L260.7,175.1 L258.0,174.4 L255.3,173.7 L252.7,172.9 L250.2,172.0 L247.8,171.1 L245.4,170.2 L243.1,169.2 L240.9,168.1 L238.8,167.0 L236.7,165.8 L234.8,164.6 L232.9,163.4 L231.0,162.1 L229.3,160.7 L227.6,159.3 L226.1,157.9 L224.6,156.4 L223.2,154.9 L221.8,153.3 L220.6,151.7 L219.5,150.0 L218.4,148.3 L217.4,146.6 L216.6,144.8 L215.8,142.9 L215.1,141.0 L214.5,139.1 L214.0,137.1 L213.5,135.0 L213.2,132.8 L213.0,130.5 L212.8,128.1 L212.8,125.1 L212.8,122.1 L213.0,119.7 L213.2,117.4 L213.5,115.2 L214.0,113.1 L214.5,111.1 L215.1,109.2 L215.8,107.3 L216.6,105.4 L217.4,103.6 L218.4,101.9 L219.5,100.2 L220.6,98.5 L221.8,96.9 L223.2,95.3 L224.6,93.8 L226.1,92.3 L227.6,90.9 L229.3,89.5 L231.0,88.1 L232.9,86.8 L234.8,85.6 L236.7,84.4 L238.8,83.2 L240.9,82.1 L243.1,81.0 L245.4,80.0 L247.8,79.1 L250.2,78.2 L252.7,77.3 L255.3,76.5 L258.0,75.8 L260.7,75.1 L263.5,74.4 L266.4,73.8 L269.3,73.3 L272.4,72.8 L275.5,72.4 L278.7,72.0 L282.0,71.7 L285.4,71.5 L288.9,71.3 L292.7,71.1 L296.7,71.0 L301.6,71.0 L306.5,71.0 L310.5,71.1 L314.3,71.3 L317.8,71.5 L321.2,71.7 L324.5,72.0 L327.7,72.4 L330.8,72.8 L333.9,73.3 L336.8,73.8 L339.7,74.4 L342.5,75.1 L345.2,75.8 L347.9,76.5 L350.5,77.3 L353.0,78.2 L355.4,79.1 L357.8,80.0 L360.1,81.0 L362.3,82.1 L364.4,83.2 L366.5,84.4 L368.4,85.6 L370.3,86.8 L372.2,88.1 L373.9,89.5 L375.6,90.9 L377.1,92.3 L378.6,93.8 L380.0,95.3 L381.4,96.9 L382.6,98.5 L383.7,100.2 L384.8,101.9 L385.8,103.6 L386.6,105.4 L387.4,107.3 L388.1,109.2 L388.7,111.1 L389.2,113.1 L389.7,115.2 L390.0,117.4 L390.2,119.7 L390.4,122.1 Z" fill="none" stroke="#dd1c22" stroke-width="3.9"/>
<line x1="380" y1="118" x2="409.5" y2="114.2" stroke="#1e1e1e" stroke-width="1.4"/>
<line x1="372" y1="142" x2="410" y2="156.7" stroke="#1e1e1e" stroke-width="1.4"/>
<line x1="280.4" y1="183.9" x2="409.8" y2="201.5" stroke="#1e1e1e" stroke-width="1.4"/>
<line x1="280" y1="209" x2="409.8" y2="240" stroke="#1e1e1e" stroke-width="1.4"/>
<line x1="122.7" y1="230.3" x2="235.5" y2="257" stroke="#1e1e1e" stroke-width="1.4"/>
<line x1="120.3" y1="271.5" x2="234.3" y2="314" stroke="#1e1e1e" stroke-width="1.4"/>
<line x1="413.5" y1="290.5" x2="367.3" y2="337.7" stroke="#1e1e1e" stroke-width="1.4"/>
<line x1="425.4" y1="333.4" x2="432.3" y2="363.7" stroke="#1e1e1e" stroke-width="1.4"/>
<line x1="360" y1="449" x2="409.6" y2="435" stroke="#1e1e1e" stroke-width="1.4"/>
<line x1="289.5" y1="461.8" x2="409.6" y2="485" stroke="#1e1e1e" stroke-width="1.4"/>
<line x1="289.5" y1="475.6" x2="409.6" y2="485.7" stroke="#1e1e1e" stroke-width="1.4"/>
<line x1="291" y1="490.6" x2="409.6" y2="526" stroke="#1e1e1e" stroke-width="1.4"/>
<line x1="291.8" y1="508" x2="409.6" y2="527.4" stroke="#1e1e1e" stroke-width="1.4"/>
<line x1="276.5" y1="551" x2="409.6" y2="532.2" stroke="#1e1e1e" stroke-width="1.4"/>
<line x1="113.9" y1="440" x2="133.4" y2="364.8" stroke="#1e1e1e" stroke-width="1.4"/>
<line x1="122.3" y1="457.8" x2="160.6" y2="474.4" stroke="#1e1e1e" stroke-width="1.4"/>
<line x1="123.2" y1="620.8" x2="184" y2="612.3" stroke="#1e1e1e" stroke-width="1.4"/>
<line x1="329" y1="646.6" x2="302.2" y2="646.6" stroke="#1e1e1e" stroke-width="1.4"/>
<line x1="415.3" y1="610" x2="401.3" y2="623" stroke="#1e1e1e" stroke-width="1.4"/>
<circle cx="422.7" cy="112.6" r="12.9" fill="#fff" stroke="#222" stroke-width="1.3"/>
<text x="422.7" y="118.8" font-size="16.2" fill="#1a1a1a" text-anchor="middle">1</text>
<circle cx="422.7" cy="161.7" r="12.9" fill="#fff" stroke="#222" stroke-width="1.3"/>
<text x="422.7" y="167.89999999999998" font-size="16.2" fill="#1a1a1a" text-anchor="middle">2</text>
<circle cx="422.5" cy="203.4" r="12.9" fill="#fff" stroke="#222" stroke-width="1.3"/>
<text x="422.5" y="209.6" font-size="16.2" fill="#1a1a1a" text-anchor="middle">3</text>
<circle cx="422.5" cy="243.5" r="12.9" fill="#fff" stroke="#222" stroke-width="1.3"/>
<text x="422.5" y="249.7" font-size="16.2" fill="#1a1a1a" text-anchor="middle">4</text>
<circle cx="109.4" cy="227.9" r="12.9" fill="#fff" stroke="#222" stroke-width="1.3"/>
<text x="109.4" y="234.1" font-size="16.2" fill="#1a1a1a" text-anchor="middle">5</text>
<circle cx="422.5" cy="280.8" r="12.9" fill="#fff" stroke="#222" stroke-width="1.3"/>
<text x="422.5" y="287.0" font-size="16.2" fill="#1a1a1a" text-anchor="middle">7</text>
<circle cx="422.5" cy="320.1" r="12.9" fill="#fff" stroke="#222" stroke-width="1.3"/>
<text x="422.5" y="326.3" font-size="16.2" fill="#1a1a1a" text-anchor="middle">8</text>
<circle cx="422.8" cy="431.5" r="12.9" fill="#fff" stroke="#222" stroke-width="1.3"/>
<text x="422.8" y="437.7" font-size="16.2" fill="#1a1a1a" text-anchor="middle">9</text>
<circle cx="422.8" cy="487.5" r="12.9" fill="#fff" stroke="#222" stroke-width="1.3"/>
<text x="422.8" y="493.7" font-size="16.2" fill="#1a1a1a" text-anchor="middle">10</text>
<circle cx="422.8" cy="529.7" r="12.9" fill="#fff" stroke="#222" stroke-width="1.3"/>
<text x="422.8" y="535.9000000000001" font-size="16.2" fill="#1a1a1a" text-anchor="middle">11</text>
<circle cx="109.4" cy="621.5" r="12.9" fill="#fff" stroke="#222" stroke-width="1.3"/>
<text x="109.4" y="627.7" font-size="16.2" fill="#1a1a1a" text-anchor="middle">12</text>
<circle cx="109.4" cy="453.3" r="12.9" fill="#fff" stroke="#222" stroke-width="1.3"/>
<text x="109.4" y="459.5" font-size="16.2" fill="#1a1a1a" text-anchor="middle">13</text>
<circle cx="341.6" cy="647.3" r="12.9" fill="#fff" stroke="#222" stroke-width="1.3"/>
<text x="341.6" y="653.5" font-size="16.2" fill="#1a1a1a" text-anchor="middle">14</text>
<circle cx="424.2" cy="599" r="12.9" fill="#fff" stroke="#222" stroke-width="1.3"/>
<text x="424.2" y="605.2" font-size="16.2" fill="#1a1a1a" text-anchor="middle">15</text>
<text x="108.6" y="273" font-size="16.5" fill="#1a1a1a" text-anchor="middle">6</text>
</svg>
</body></html>
